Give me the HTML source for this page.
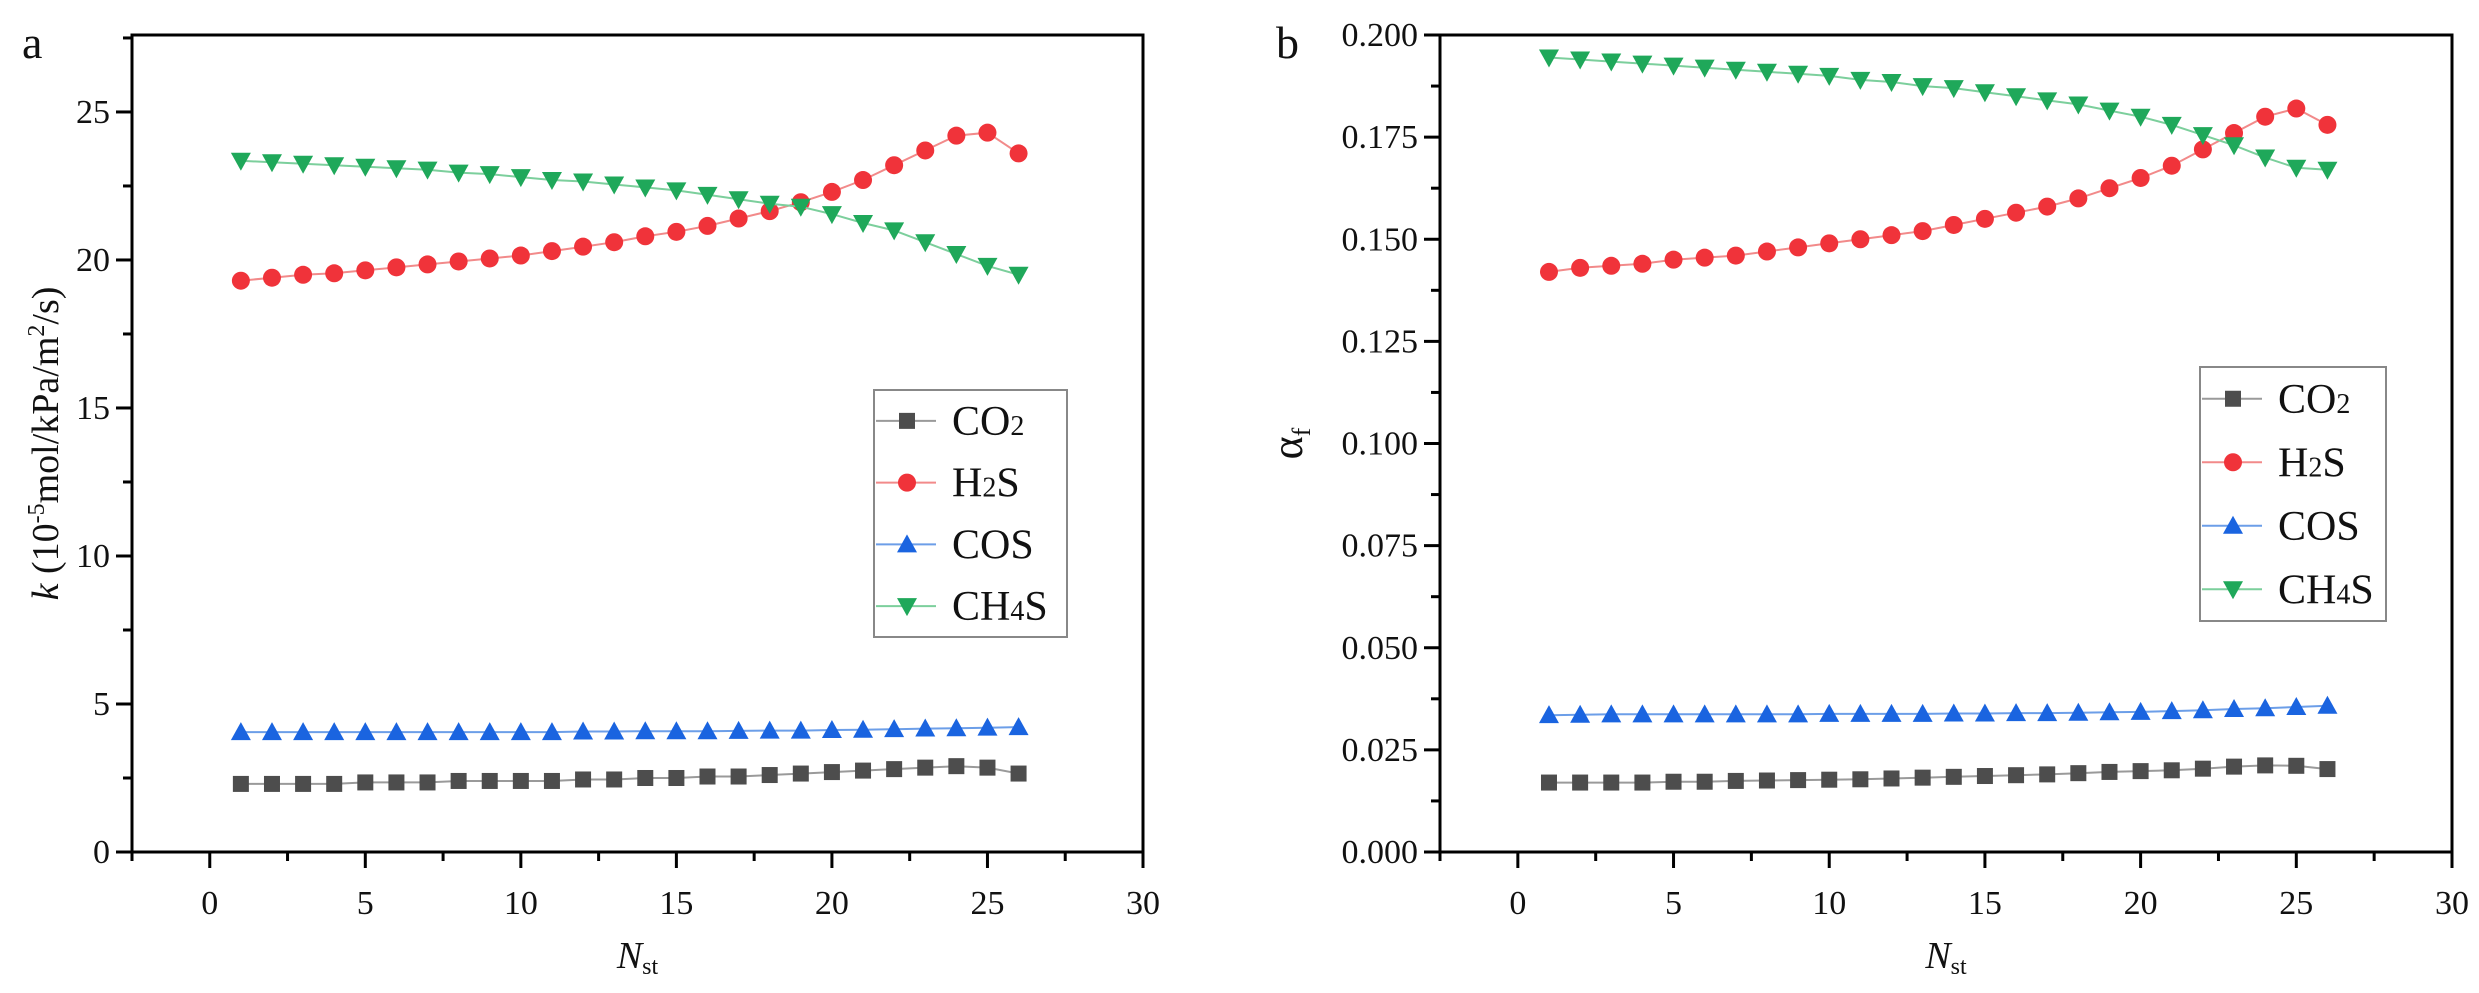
<!DOCTYPE html>
<html><head><meta charset="utf-8"><style>
body{margin:0;background:#fff;}
svg{display:block;}
svg text{font-family:"Liberation Serif","DejaVu Serif",serif;}
</style></head><body>
<svg id="fig" width="2479" height="993" viewBox="0 0 2479 993" xmlns="http://www.w3.org/2000/svg" font-family="Liberation Serif, DejaVu Serif, serif"></svg>
<script>
const stages = [1,2,3,4,5,6,7,8,9,10,11,12,13,14,15,16,17,18,19,20,21,22,23,24,25,26];
const kCO2 = [2.3,2.3,2.3,2.3,2.35,2.35,2.35,2.4,2.4,2.4,2.4,2.45,2.45,2.5,2.5,2.55,2.55,2.6,2.65,2.7,2.75,2.8,2.85,2.9,2.85,2.65];
const kH2S = [19.3,19.4,19.5,19.55,19.65,19.75,19.85,19.95,20.05,20.15,20.3,20.45,20.6,20.8,20.95,21.15,21.4,21.65,21.95,22.3,22.7,23.2,23.7,24.2,24.3,23.6];
const kCOS = [4.05,4.05,4.05,4.05,4.05,4.05,4.05,4.05,4.05,4.05,4.05,4.07,4.07,4.08,4.08,4.08,4.09,4.1,4.1,4.12,4.13,4.15,4.17,4.18,4.2,4.22];
const kCH4S = [23.35,23.3,23.25,23.2,23.15,23.1,23.05,22.95,22.9,22.8,22.7,22.65,22.55,22.45,22.35,22.2,22.05,21.9,21.8,21.55,21.25,21.0,20.6,20.2,19.8,19.5];
const aCO2 = [0.017,0.017,0.017,0.017,0.0172,0.0172,0.0174,0.0175,0.0176,0.0177,0.0178,0.018,0.0182,0.0184,0.0186,0.0188,0.019,0.0193,0.0196,0.0198,0.02,0.0204,0.0209,0.0212,0.0211,0.0203];
const aH2S = [0.142,0.143,0.1435,0.144,0.145,0.1455,0.146,0.147,0.148,0.149,0.150,0.151,0.152,0.1535,0.155,0.1565,0.158,0.160,0.1625,0.165,0.168,0.172,0.176,0.180,0.182,0.178];
const aCOS = [0.0335,0.0336,0.0337,0.0337,0.0337,0.0337,0.0337,0.0337,0.0337,0.0338,0.0338,0.0338,0.0338,0.0339,0.0339,0.034,0.034,0.0341,0.0342,0.0343,0.0345,0.0347,0.035,0.0352,0.0355,0.0358];
const aCH4S = [0.1945,0.194,0.1935,0.193,0.1925,0.192,0.1915,0.191,0.1905,0.190,0.189,0.1885,0.1875,0.187,0.186,0.185,0.184,0.183,0.1815,0.180,0.178,0.1755,0.173,0.170,0.1675,0.167];
const xTicks = [0,5,10,15,20,25,30];
const kTicks = [0,5,10,15,20,25];
const aTicks = ["0.000","0.025","0.050","0.075","0.100","0.125","0.150","0.175","0.200"];

const NS="http://www.w3.org/2000/svg";
const FF="Liberation Serif, DejaVu Serif, serif";
const svg=document.getElementById('fig');
function mk(tag,attrs,parent){const e=document.createElementNS(NS,tag);for(const k in attrs)e.setAttribute(k,attrs[k]);if(tag==='text')e.setAttribute('font-family',FF);(parent||svg).appendChild(e);return e;}

const series=[
 {name:'CO2',sub:'2',pre:'CO',post:'',color:'#4d4d4d',line:'#9a9a9a',m:'sq'},
 {name:'H2S',sub:'2',pre:'H',post:'S',color:'#f0333a',line:'#f28a8a',m:'ci'},
 {name:'COS',sub:'',pre:'COS',post:'',color:'#1a64e0',line:'#6c9ee8',m:'up'},
 {name:'CH4S',sub:'4',pre:'CH',post:'S',color:'#1fa85a',line:'#7ccf9c',m:'dn'}];

function marker(g,type,cx,cy,color,s){
 let e;
 if(type==='sq') e=mk('rect',{x:cx-s,y:cy-s,width:2*s,height:2*s,fill:color},g);
 else if(type==='ci') e=mk('circle',{cx:cx,cy:cy,r:s+1,fill:color},g);
 else if(type==='up') e=mk('polygon',{points:`${cx},${cy-s-2} ${cx-s-2},${cy+s} ${cx+s+2},${cy+s}`,fill:color},g);
 else e=mk('polygon',{points:`${cx},${cy+s+2} ${cx-s-2},${cy-s} ${cx+s+2},${cy-s}`,fill:color},g);
 return e;
}

function panel(cfg){
 const g=mk('g',{});
 
 
 const L=cfg.L,R=cfg.R,T=35,B=852;
 const X=v=>L+(v+2.5)/32.5*(R-L);
 const Y=v=>B-(v/cfg.ymax)*(B-T);
 cfg.data.forEach((d,si)=>{
  const s=series[si];
  const sg=mk('g',{},g);
  
  
  const pts=stages.map((x,i)=>X(x).toFixed(1)+','+Y(d[i]).toFixed(1)).join(' ');
  mk('polyline',{points:pts,fill:'none',stroke:s.line,'stroke-width':2},sg);
  stages.forEach((x,i)=>{const m=marker(sg,s.m,X(x),Y(d[i]),s.color,8);
   
   });
 });
 const fr=mk('rect',{x:L,y:T,width:R-L,height:B-T,fill:'none',stroke:'#000','stroke-width':3},g);
 
 
 for(let v=-2.5;v<=30.01;v+=2.5){const major=Math.abs(v%5)<0.01;
  mk('line',{x1:X(v),x2:X(v),y1:B,y2:B+(major?16:9),stroke:'#000','stroke-width':3},g);}
 xTicks.forEach(v=>{const t=mk('text',{x:X(v),y:B+62,'font-size':34,'text-anchor':'middle',fill:'#111'},g);t.textContent=v;
  
  });
 const step=cfg.ystep/2;
 for(let v=0;v<=cfg.ymax+1e-9;v+=step){const major=Math.abs(v/cfg.ystep-Math.round(v/cfg.ystep))<0.01;
  mk('line',{x1:L,x2:L-(major?16:9),y1:Y(v),y2:Y(v),stroke:'#000','stroke-width':3},g);}
 cfg.yticks.forEach(v=>{const t=mk('text',{x:L-22,y:Y(+v)+11,'font-size':34,'text-anchor':'end',fill:'#111'},g);t.textContent=v;
  
  });
 const xt=mk('text',{x:(L+R)/2,y:968,'font-size':38,'text-anchor':'middle',fill:'#111'},g);
 xt.innerHTML='<tspan font-style="italic">N</tspan><tspan font-size="24" dy="6">st</tspan>';
 
 
 const yt=mk('text',{transform:`translate(${cfg.ytx},${(T+B)/2}) rotate(-90)`,'font-size':cfg.ytfs,'text-anchor':'middle',fill:'#111'},g);
 yt.innerHTML=cfg.ytitle;
 
 
 const pl=mk('text',{x:cfg.lx,y:58,'font-size':46,fill:'#111'},g);pl.textContent=cfg.id;
 
 
 const lg=mk('g',{},g);
 
 
 const lb=cfg.leg;
 mk('rect',{x:lb[0],y:lb[1],width:lb[2]-lb[0],height:lb[3]-lb[1],fill:'#fff',stroke:'#888','stroke-width':2},lg);
 const rowH=(lb[3]-lb[1])/4;
 series.forEach((s,i)=>{
  const cy=lb[1]+rowH*(i+0.5);
  const e=mk('g',{},lg);
  
  
  mk('line',{x1:lb[0]+2,x2:lb[0]+62,y1:cy,y2:cy,stroke:s.line,'stroke-width':2},e);
  marker(e,s.m,lb[0]+33,cy,s.color,8);
  const t=mk('text',{x:lb[0]+78,y:cy+14,'font-size':42,fill:'#111'},e);
  t.innerHTML=s.pre+(s.sub?'<tspan font-size="28">'+s.sub+'</tspan>':'')+s.post;
 });
}

panel({id:'a',L:132,R:1143,ymax:27.6,ystep:5,yticks:kTicks,data:[kCO2,kH2S,kCOS,kCH4S],
 ytx:58,ytfs:38,ytitle:'<tspan font-style="italic">k</tspan> (10<tspan font-size="24" dy="-14">-5</tspan><tspan dy="14">mol/kPa/m</tspan><tspan font-size="24" dy="-14">2</tspan><tspan dy="14">/s)</tspan>',
 lx:22,leg:[874,390,1067,637]});
panel({id:'b',L:1440,R:2452,ymax:0.2,ystep:0.025,yticks:aTicks,data:[aCO2,aH2S,aCOS,aCH4S],
 ytx:1302,ytfs:44,ytitle:'α<tspan font-size="26" dy="8">f</tspan>',
 lx:1276,leg:[2200,367,2386,621]});
</script>
</body></html>
